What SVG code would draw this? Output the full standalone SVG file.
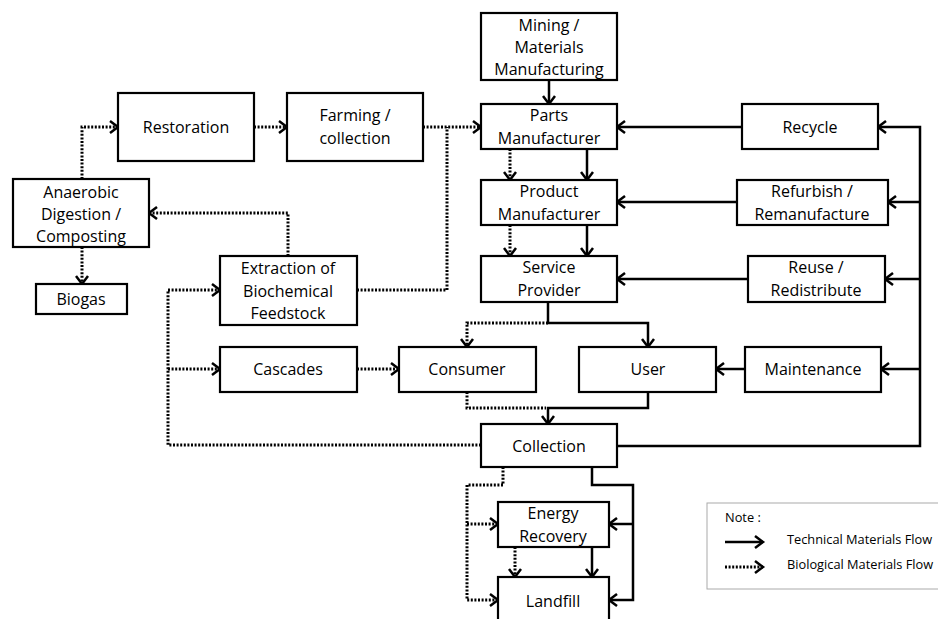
<svg xmlns="http://www.w3.org/2000/svg" width="938" height="619" viewBox="0 0 938 619">
<style>
.box{fill:#fff;stroke:#000;stroke-width:2.2}
.t{font-family:"Open Sans","Liberation Sans",sans-serif;font-size:16px;fill:#000;text-anchor:middle}
.lg{font-family:"Open Sans","Liberation Sans",sans-serif;font-size:12.8px;fill:#000}
.s{fill:none;stroke:#000;stroke-width:2.5}
.d{fill:none;stroke:#000;stroke-width:3;stroke-dasharray:2 1.6}
</style>
<defs>
<marker id="ah" markerUnits="userSpaceOnUse" markerWidth="14" markerHeight="16" viewBox="0 0 14 16" refX="11" refY="8" orient="auto">
<path d="M3,2 L11,8 L3,14" fill="none" stroke="#000" stroke-width="2.5"/>
</marker>
</defs>
<rect width="938" height="619" fill="#fff"/>
<g id="connectors">
<path class="s" d="M549,80 V104" marker-end="url(#ah)"/>
<path class="s" d="M587,149 V180" marker-end="url(#ah)"/>
<path class="s" d="M587,225 V256" marker-end="url(#ah)"/>
<path class="s" d="M742,127 H617" marker-end="url(#ah)"/>
<path class="s" d="M737,202 H617" marker-end="url(#ah)"/>
<path class="s" d="M748,279 H617" marker-end="url(#ah)"/>
<path class="s" d="M548,302 V323 H648 V347" marker-end="url(#ah)"/>
<path class="s" d="M745,369 H716" marker-end="url(#ah)"/>
<path class="s" d="M648,392 V408 H548 V424" marker-end="url(#ah)"/>
<path class="s" d="M617,446 H920 V127 H878" marker-end="url(#ah)"/>
<path class="s" d="M920,202 H888" marker-end="url(#ah)"/>
<path class="s" d="M920,279 H885" marker-end="url(#ah)"/>
<path class="s" d="M920,369 H881" marker-end="url(#ah)"/>
<path class="s" d="M592,467 V485 H633 V600 H609" marker-end="url(#ah)"/>
<path class="s" d="M633,524 H609" marker-end="url(#ah)"/>
<path class="s" d="M592,547 V577" marker-end="url(#ah)"/>
<path class="d" d="M82,179 V127 H118" marker-end="url(#ah)"/>
<path class="d" d="M254,127 H287" marker-end="url(#ah)"/>
<path class="d" d="M423,127 H481" marker-end="url(#ah)"/>
<path class="d" d="M357,290 H447 V127"/>
<path class="d" d="M288,256 V213 H149" marker-end="url(#ah)"/>
<path class="d" d="M82,247 V284" marker-end="url(#ah)"/>
<path class="d" d="M510,149 V180" marker-end="url(#ah)"/>
<path class="d" d="M510,225 V256" marker-end="url(#ah)"/>
<path class="d" d="M548,323 H467 V347" marker-end="url(#ah)"/>
<path class="d" d="M357,369 H399" marker-end="url(#ah)"/>
<path class="d" d="M467,392 V408 H546"/>
<path class="d" d="M481,445 H168 V290 H220" marker-end="url(#ah)"/>
<path class="d" d="M168,369 H220" marker-end="url(#ah)"/>
<path class="d" d="M503,467 V485 H467 V600 H498" marker-end="url(#ah)"/>
<path class="d" d="M467,524 H498" marker-end="url(#ah)"/>
<path class="d" d="M515,547 V577" marker-end="url(#ah)"/>
</g>
<g id="mining"><rect class="box" x="481" y="13" width="136" height="67"/><text class="t" x="549" y="31">Mining /</text><text class="t" x="549" y="53">Materials</text><text class="t" x="549" y="75">Manufacturing</text></g>
<g id="parts"><rect class="box" x="481" y="104" width="136" height="45"/><text class="t" x="549" y="121">Parts</text><text class="t" x="549" y="144">Manufacturer</text></g>
<g id="product"><rect class="box" x="481" y="180" width="136" height="45"/><text class="t" x="549" y="197">Product</text><text class="t" x="549" y="220">Manufacturer</text></g>
<g id="service"><rect class="box" x="481" y="256" width="136" height="46"/><text class="t" x="549" y="273">Service</text><text class="t" x="549" y="296">Provider</text></g>
<g id="recycle"><rect class="box" x="742" y="104" width="136" height="45"/><text class="t" x="810" y="133">Recycle</text></g>
<g id="refurbish"><rect class="box" x="737" y="180" width="151" height="45"/><text class="t" x="812" y="197">Refurbish /</text><text class="t" x="812" y="220">Remanufacture</text></g>
<g id="reuse"><rect class="box" x="748" y="256" width="137" height="46"/><text class="t" x="816" y="273">Reuse /</text><text class="t" x="816" y="296">Redistribute</text></g>
<g id="restoration"><rect class="box" x="118" y="93" width="136" height="68"/><text class="t" x="186" y="133">Restoration</text></g>
<g id="farming"><rect class="box" x="287" y="93" width="136" height="68"/><text class="t" x="355" y="121">Farming /</text><text class="t" x="355" y="144">collection</text></g>
<g id="anaerobic"><rect class="box" x="13" y="179" width="136" height="68"/><text class="t" x="81" y="198">Anaerobic</text><text class="t" x="81" y="220">Digestion /</text><text class="t" x="81" y="242">Composting</text></g>
<g id="biogas"><rect class="box" x="36" y="284" width="91" height="30"/><text class="t" x="81" y="305">Biogas</text></g>
<g id="extraction"><rect class="box" x="220" y="256" width="137" height="69"/><text class="t" x="288" y="274">Extraction of</text><text class="t" x="288" y="297">Biochemical</text><text class="t" x="288" y="319">Feedstock</text></g>
<g id="cascades"><rect class="box" x="220" y="347" width="137" height="45"/><text class="t" x="288" y="375">Cascades</text></g>
<g id="consumer"><rect class="box" x="399" y="347" width="137" height="45"/><text class="t" x="467" y="375">Consumer</text></g>
<g id="user"><rect class="box" x="579" y="347" width="137" height="45"/><text class="t" x="648" y="375">User</text></g>
<g id="maintenance"><rect class="box" x="745" y="347" width="136" height="45"/><text class="t" x="813" y="375">Maintenance</text></g>
<g id="collection"><rect class="box" x="481" y="424" width="136" height="43"/><text class="t" x="549" y="452">Collection</text></g>
<g id="energy"><rect class="box" x="498" y="502" width="111" height="45"/><text class="t" x="553" y="519">Energy</text><text class="t" x="553" y="542">Recovery</text></g>
<g id="landfill"><rect class="box" x="498" y="577" width="111" height="50"/><text class="t" x="553" y="607">Landfill</text></g>
<g id="legend">
<rect x="707" y="503" width="240" height="86" fill="#fff" stroke="#aaa" stroke-width="1"/>
<text class="lg" x="725" y="522">Note :</text>
<path class="s" d="M725,542 H763" marker-end="url(#ah)"/>
<text class="lg" x="787" y="544">Technical Materials Flow</text>
<path class="d" d="M725,567 H763" marker-end="url(#ah)"/>
<text class="lg" x="787" y="569">Biological Materials Flow</text>
</g>
</svg>
